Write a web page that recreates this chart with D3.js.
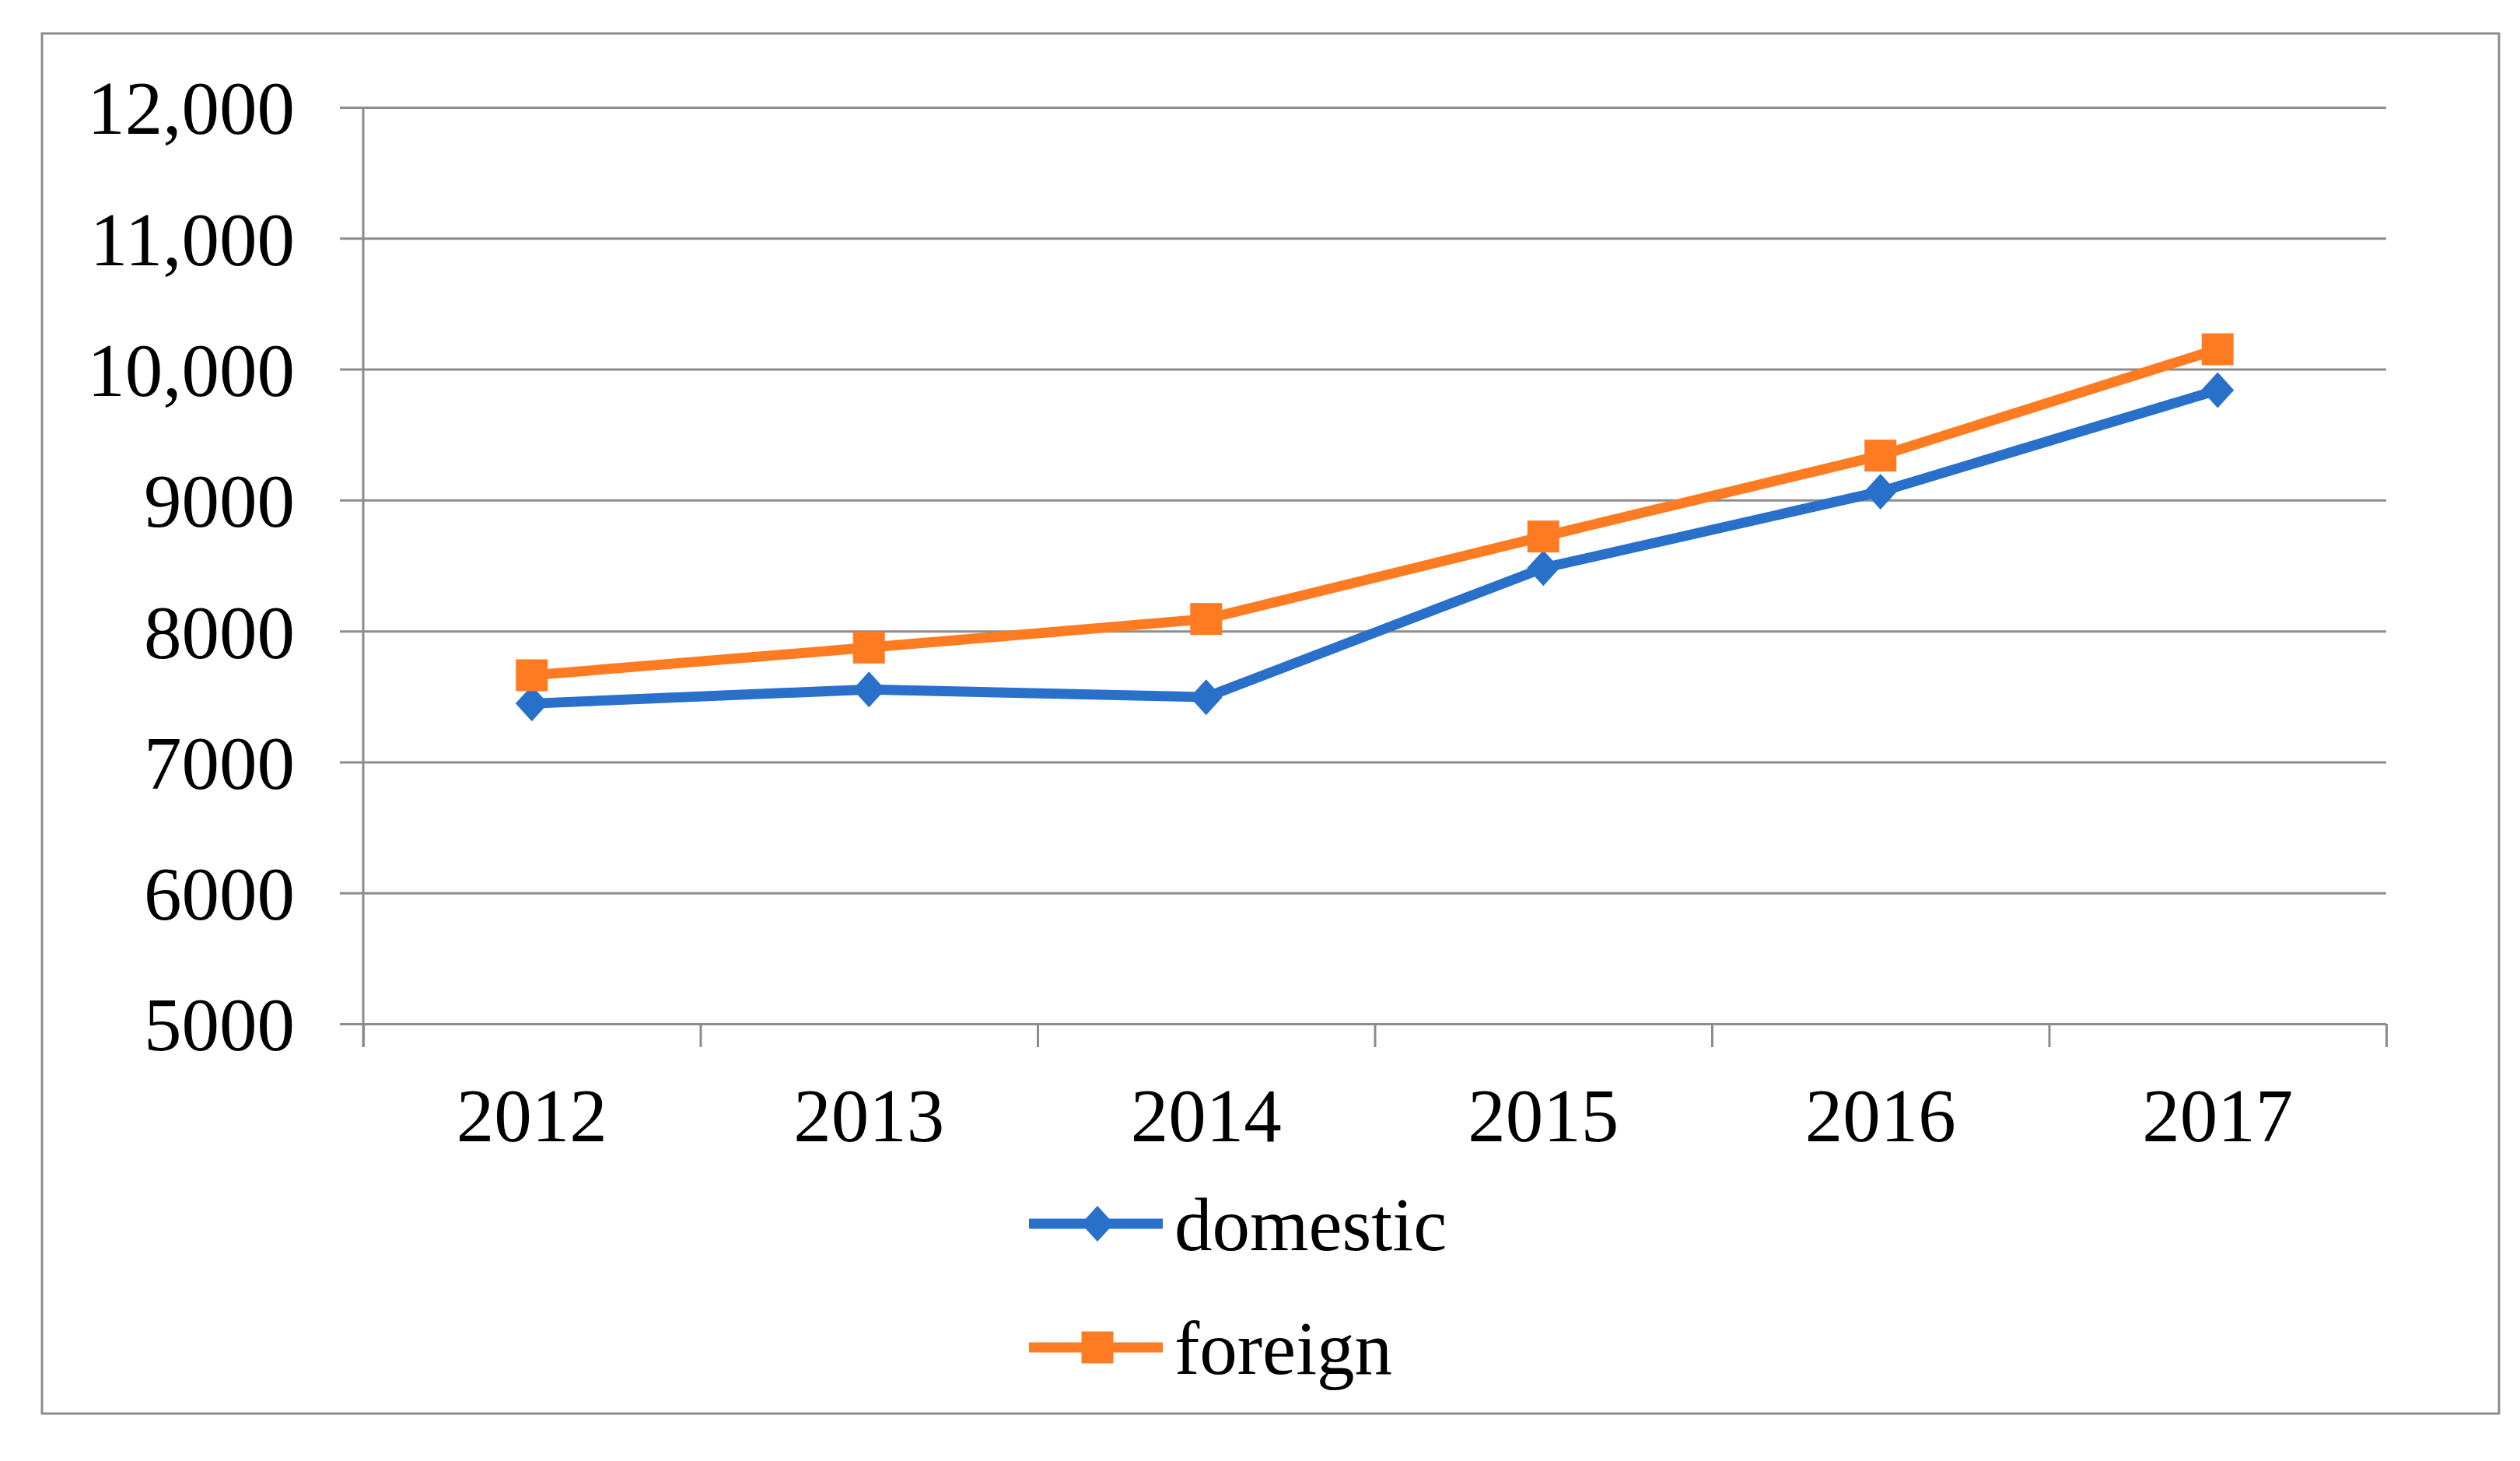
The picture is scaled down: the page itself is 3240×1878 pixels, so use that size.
<!DOCTYPE html>
<html>
<head>
<meta charset="utf-8">
<script src="https://cdn.jsdelivr.net/npm/d3@7"></script>
<style>
  html, body { margin: 0; padding: 0; background: #ffffff; }
  svg { display: block; }
</style>
</head>
<body>
<div id="chart"></div>
<script>
// ---- data ----
const years = ["2012", "2013", "2014", "2015", "2016", "2017"];
const domestic = [7446, 7554, 7495, 8481, 9065, 9840];
const foreign = [7662, 7874, 8092, 8722, 9340, 10152];
const yTicks = [5000, 6000, 7000, 8000, 9000, 10000, 11000, 12000];
const yTickLabels = ["5000", "6000", "7000", "8000", "9000", "10,000", "11,000", "12,000"];
const seriesNames = ["domestic", "foreign"];

// ---- layout ----
const W = 3240, H = 1878;
const plotL = 467, plotR = 3068, plotT = 138, plotB = 1316;
const gridColor = "#8c8c8c";
const colors = { domestic: "#2870CA", foreign: "#FF7B22" };
const font = "'Liberation Serif', 'Times New Roman', serif";
const fontSize = 97;

const svg = d3.select("#chart").append("svg")
  .attr("width", W).attr("height", H);

svg.append("rect").attr("width", W).attr("height", H).attr("fill", "#fff");

// outer border
svg.append("rect")
  .attr("x", 54).attr("y", 43).attr("width", 3213 - 54).attr("height", 1817 - 43)
  .attr("fill", "none").attr("stroke", gridColor).attr("stroke-width", 3);

// scales
const y = d3.scaleLinear().domain([5000, 12000]).range([plotB, plotT]);
const x = d3.scaleBand().domain(years).range([plotL, plotR]).paddingInner(0).paddingOuter(0);
const xc = d => x(d) + x.bandwidth() / 2;
const xb = d3.scaleLinear().domain([0, years.length]).range([plotL, plotR]);

// y axis with gridlines (extending 30px left of plot)
const tickOut = 30;
const yAxis = d3.axisLeft(y)
  .tickValues(yTicks)
  .tickSize(plotR - plotL + tickOut)
  .tickPadding(58)
  .tickFormat((d, i) => yTickLabels[i]);
const gy = svg.append("g").attr("transform", `translate(${plotR},0)`).call(yAxis);
gy.select(".domain").remove();
gy.selectAll(".tick line").attr("stroke", gridColor).attr("stroke-width", 3);
gy.selectAll(".tick text")
  .attr("font-family", font).attr("font-size", fontSize).attr("fill", "#000")
  .attr("dy", "0.35em");

// vertical axis line
svg.append("line")
  .attr("x1", plotL).attr("x2", plotL)
  .attr("y1", plotT).attr("y2", plotB + tickOut)
  .attr("stroke", gridColor).attr("stroke-width", 3);

// category boundary ticks
const xTickAxis = d3.axisBottom(xb).tickValues(d3.range(years.length + 1))
  .tickSize(tickOut).tickFormat("");
const gxt = svg.append("g").attr("transform", `translate(0,${plotB})`).call(xTickAxis);
gxt.select(".domain").remove();
gxt.selectAll(".tick line").attr("stroke", gridColor).attr("stroke-width", 3);

// category labels
const xAxis = d3.axisBottom(x).tickSize(0).tickPadding(0);
const gx = svg.append("g").attr("transform", `translate(0,${plotB})`).call(xAxis);
gx.select(".domain").remove();
gx.selectAll(".tick text")
  .attr("font-family", font).attr("font-size", fontSize).attr("fill", "#000")
  .attr("y", 151).attr("dy", 0);

// series
const series = [
  { name: "domestic", values: domestic, marker: "diamond" },
  { name: "foreign", values: foreign, marker: "square" }
];

const line = d3.line().x((d, i) => xc(years[i])).y(d => y(d));
const diamondPath = (cx, cy) => `M${cx},${cy - 23}L${cx + 21},${cy}L${cx},${cy + 23}L${cx - 21},${cy}Z`;
const sq = 41;

series.forEach(s => {
  const g = svg.append("g");
  g.append("path").datum(s.values)
    .attr("d", line)
    .attr("fill", "none")
    .attr("stroke", colors[s.name])
    .attr("stroke-width", 13)
    .attr("stroke-linejoin", "round");
  if (s.marker === "square") {
    g.selectAll("rect").data(s.values).enter().append("rect")
      .attr("x", (d, i) => xc(years[i]) - sq / 2)
      .attr("y", d => y(d) - sq / 2)
      .attr("width", sq).attr("height", sq)
      .attr("fill", colors[s.name]);
  } else {
    g.selectAll("path.m").data(s.values).enter().append("path")
      .attr("class", "m")
      .attr("d", (d, i) => diamondPath(xc(years[i]), y(d)))
      .attr("fill", colors[s.name]);
  }
});

// legend
const legendY = [1573, 1732];
const lx1 = 1323, lx2 = 1495, lmx = 1411, ltx = 1510;
series.forEach((s, i) => {
  const g = svg.append("g");
  g.append("line")
    .attr("x1", lx1).attr("x2", lx2).attr("y1", legendY[i]).attr("y2", legendY[i])
    .attr("stroke", colors[s.name]).attr("stroke-width", 13);
  if (s.marker === "square") {
    g.append("rect").attr("x", lmx - sq / 2).attr("y", legendY[i] - sq / 2)
      .attr("width", sq).attr("height", sq).attr("fill", colors[s.name]);
  } else {
    g.append("path").attr("d", diamondPath(lmx, legendY[i])).attr("fill", colors[s.name]);
  }
  g.append("text")
    .attr("x", ltx).attr("y", legendY[i]).attr("dy", "0.35em")
    .attr("font-family", font).attr("font-size", fontSize).attr("fill", "#000")
    .text(seriesNames[i]);
});
</script>
</body>
</html>
